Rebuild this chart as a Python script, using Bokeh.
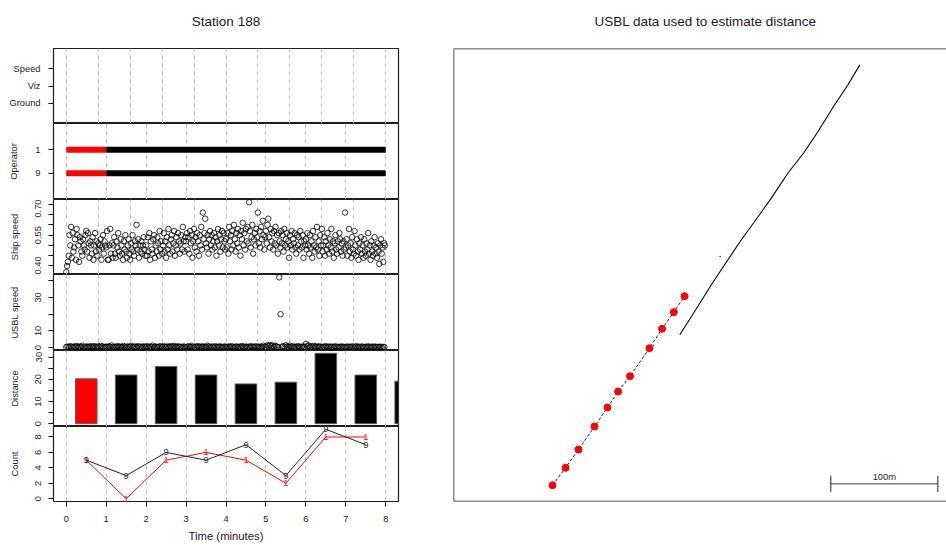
import numpy as np
from bokeh.plotting import figure
from bokeh.layouts import column, row
from bokeh.models import FixedTicker, Range1d, Span, PrintfTickFormatter, Title
from bokeh.core.properties import value
from bokeh.embed import file_html
from bokeh.resources import INLINE

FONT = "Liberation Sans"
TICK_FS = "9.3px"
INK = "#1a1a1a"

# ---------------- data ----------------
time_ticks = [0, 1, 2, 3, 4, 5, 6, 7, 8]
grid_minutes = [0, 1, 2, 3, 4, 5, 6, 7, 8]
grid_fine = [0.0, 0.8, 1.6, 2.4, 3.2, 4.0, 4.8, 5.6, 6.4, 7.2, 8.0]

status_ticks = [1, 2, 3]
status_labels = ["Ground", "Viz", "Speed"]

operator_ticks = [1, 2]
operator_labels = ["9", "1"]
operator_y = [2, 2, 1, 1]
operator_start = [0, 1, 0, 1]
operator_end = [1, 8, 1, 8]
operator_color = ["red", "black", "red", "black"]

ship_speed_ticks = [0.40, 0.55, 0.70]
ship_speed_minor = [0.45, 0.50, 0.60, 0.65]
# ship speed samples, one row per minute
ship_speed = [
    [0.37, 0.40, 0.42, 0.45, 0.55, 0.50, 0.59, 0.44, 0.56, 0.47, 0.49, 0.53, 0.43, 0.58, 0.55, 0.50, 0.42, 0.54, 0.52, 0.47,
     0.45, 0.53, 0.50, 0.48, 0.55, 0.57, 0.47, 0.56, 0.51, 0.44, 0.52, 0.50, 0.46, 0.54, 0.43, 0.50, 0.56, 0.47, 0.52, 0.45,
     0.51, 0.48, 0.50, 0.53, 0.43, 0.49, 0.55, 0.46, 0.52, 0.50],
    [0.49, 0.57, 0.43, 0.43, 0.50, 0.58, 0.46, 0.51, 0.44, 0.50, 0.54, 0.46, 0.44, 0.52, 0.49, 0.56, 0.47, 0.45, 0.53, 0.50,
     0.46, 0.43, 0.52, 0.48, 0.55, 0.47, 0.44, 0.50, 0.53, 0.46, 0.43, 0.51, 0.48, 0.55, 0.47, 0.45, 0.52, 0.50, 0.60, 0.48,
     0.53, 0.44, 0.50, 0.47, 0.52, 0.46, 0.50, 0.54, 0.48, 0.45],
    [0.50, 0.45, 0.54, 0.47, 0.56, 0.43, 0.52, 0.48, 0.46, 0.53, 0.55, 0.44, 0.50, 0.47, 0.54, 0.51, 0.45, 0.57, 0.48, 0.52,
     0.46, 0.50, 0.56, 0.47, 0.52, 0.44, 0.54, 0.48, 0.58, 0.50, 0.46, 0.53, 0.55, 0.47, 0.51, 0.57, 0.45, 0.50, 0.54, 0.48,
     0.56, 0.52, 0.46, 0.51, 0.55, 0.48, 0.59, 0.52, 0.47, 0.54],
    [0.52, 0.56, 0.48, 0.54, 0.46, 0.57, 0.51, 0.55, 0.44, 0.52, 0.58, 0.49, 0.54, 0.47, 0.56, 0.52, 0.45, 0.55, 0.50, 0.59,
     0.48, 0.66, 0.53, 0.56, 0.63, 0.51, 0.49, 0.55, 0.46, 0.53, 0.57, 0.50, 0.55, 0.48, 0.52, 0.56, 0.49, 0.54, 0.45, 0.52,
     0.58, 0.50, 0.55, 0.47, 0.53, 0.57, 0.49, 0.56, 0.52, 0.48],
    [0.53, 0.49, 0.56, 0.46, 0.59, 0.52, 0.55, 0.48, 0.57, 0.50, 0.60, 0.53, 0.47, 0.56, 0.51, 0.58, 0.49, 0.55, 0.45, 0.57,
     0.53, 0.61, 0.50, 0.56, 0.48, 0.58, 0.52, 0.59, 0.51, 0.71, 0.57, 0.49, 0.54, 0.60, 0.46, 0.53, 0.56, 0.50, 0.58, 0.54,
     0.66, 0.51, 0.57, 0.49, 0.59, 0.53, 0.62, 0.55, 0.48, 0.54],
    [0.57, 0.51, 0.60, 0.63, 0.54, 0.49, 0.58, 0.52, 0.56, 0.48, 0.57, 0.51, 0.59, 0.50, 0.55, 0.46, 0.56, 0.52, 0.49, 0.57,
     0.51, 0.55, 0.47, 0.58, 0.50, 0.53, 0.56, 0.49, 0.52, 0.44, 0.55, 0.50, 0.57, 0.48, 0.53, 0.51, 0.56, 0.49, 0.46, 0.55,
     0.50, 0.54, 0.48, 0.57, 0.52, 0.49, 0.55, 0.44, 0.52, 0.50],
    [0.53, 0.48, 0.56, 0.50, 0.46, 0.55, 0.49, 0.52, 0.44, 0.57, 0.50, 0.47, 0.54, 0.49, 0.59, 0.48, 0.52, 0.45, 0.55, 0.50,
     0.58, 0.47, 0.50, 0.54, 0.45, 0.52, 0.48, 0.56, 0.50, 0.46, 0.53, 0.49, 0.58, 0.47, 0.52, 0.44, 0.51, 0.55, 0.48, 0.46,
     0.52, 0.49, 0.56, 0.53, 0.47, 0.51, 0.45, 0.52, 0.48, 0.66],
    [0.49, 0.53, 0.45, 0.50, 0.58, 0.47, 0.51, 0.44, 0.54, 0.48, 0.46, 0.57, 0.50, 0.45, 0.53, 0.47, 0.43, 0.51, 0.48, 0.54,
     0.46, 0.50, 0.44, 0.53, 0.47, 0.45, 0.51, 0.48, 0.56, 0.46, 0.50, 0.43, 0.52, 0.47, 0.45, 0.50, 0.54, 0.46, 0.49, 0.44,
     0.51, 0.47, 0.41, 0.50, 0.53, 0.46, 0.49, 0.42, 0.51, 0.50],
]

usbl_speed_ticks = [0, 10, 30]
usbl_speed_minor = [20, 40]
# USBL speed samples, one row per minute
usbl_speed = [
    [0.4, 0.7, 0.3, 0.9, 0.5, 0.2, 0.8, 0.4, 1.0, 0.3, 0.6, 0.5, 1.2, 0.4, 0.2, 0.7, 0.5, 0.3, 0.9, 0.6,
     0.4, 1.0, 0.2, 0.5, 0.8, 0.3, 1.1, 0.6, 0.4, 0.5],
    [0.6, 0.3, 0.8, 0.5, 1.3, 0.4, 0.2, 0.7, 0.5, 0.9, 0.3, 0.6, 0.4, 1.0, 0.5, 0.2, 0.8, 0.4, 0.6, 1.1,
     0.3, 0.5, 0.7, 0.2, 0.9, 0.4, 0.6, 0.3, 0.8, 0.5],
    [0.5, 0.9, 0.3, 0.6, 0.4, 1.2, 0.2, 0.7, 0.5, 0.3, 0.8, 0.6, 0.4, 1.0, 0.3, 0.5, 0.7, 0.2, 0.9, 0.4,
     0.6, 1.1, 0.3, 0.5, 0.8, 0.4, 0.6, 0.2, 0.7, 0.5],
    [0.3, 0.6, 0.8, 0.4, 1.0, 0.5, 0.2, 0.7, 0.4, 0.9, 0.3, 0.6, 0.5, 0.8, 0.2, 0.4, 1.1, 0.6, 0.3, 0.7,
     0.5, 0.4, 0.9, 0.2, 0.6, 0.5, 0.8, 0.3, 0.4, 0.7],
    [0.5, 0.3, 0.7, 0.4, 0.9, 0.6, 0.2, 0.5, 0.8, 0.3, 0.6, 0.4, 1.0, 0.5, 0.3, 0.7, 0.2, 0.6, 0.4, 0.9,
     0.5, 0.3, 0.8, 0.6, 0.4, 0.7, 0.2, 0.5, 1.2, 0.4],
    [0.6, 1.4, 0.9, 1.6, 0.8, 1.3, 0.5, 1.1, 0.7, 0.4, 42.0, 20.0, 0.6, 0.9, 0.4, 1.5, 0.7, 0.3, 1.2, 0.5,
     0.8, 0.4, 0.6, 0.3, 0.9, 0.5, 0.2, 0.7, 0.4, 0.6],
    [2.2, 0.8, 1.3, 0.5, 0.9, 0.4, 1.1, 0.6, 0.3, 0.8, 0.5, 0.7, 0.2, 0.6, 0.4, 0.9, 0.3, 0.5, 0.7, 0.4,
     0.6, 0.2, 0.8, 0.5, 0.3, 0.6, 0.4, 0.7, 0.5, 0.3],
    [0.5, 0.7, 0.3, 0.6, 0.4, 0.8, 0.2, 0.5, 0.9, 0.4, 0.6, 0.3, 0.7, 0.5, 0.2, 0.6, 0.4, 0.8, 0.3, 0.5,
     0.6, 0.4, 0.7, 0.3, 0.5, 0.4, 0.6, 0.2, 0.5, 0.4],
]

distance_ticks = [0, 10, 20, 30]
distance_minor = [5, 15, 25]
dist_time = [0.5, 1.5, 2.5, 3.5, 4.5, 5.5, 6.5, 7.5, 8.5]
dist_value = [20.2, 21.9, 25.8, 21.9, 17.9, 18.7, 31.7, 21.9, 19.1]
dist_color = ["red", "black", "black", "black", "black", "black", "black", "black", "black"]

count_ticks = [0, 2, 4, 6, 8]
count_time = [0.5, 1.5, 2.5, 3.5, 4.5, 5.5, 6.5, 7.5]
count_op9 = [5, 3, 6, 5, 7, 3, 9, 7]
count_op1 = [5, 0, 5, 6, 5, 2, 8, 8]

# right panel, local grid in metres
track_x = [211.5, 224.9, 240.5, 252.9, 268.5, 280.9, 296.5, 312.1, 327.7, 340.2, 355.7, 368.2, 379.7]
track_y = [155.8, 176.9, 201.9, 220.6, 243.9, 261.0, 282.9, 306.3, 326.4, 345.1, 370.1, 388.8, 408.1]
fix_x = [92.5, 104.7, 116.8, 131.8, 143.9, 153.8, 165.0, 183.1, 194.9, 205.9, 215.9]
fix_y = [15.2, 31.5, 48.6, 70.1, 87.9, 102.8, 117.1, 143.3, 161.4, 177.0, 191.9]
stray_x = [249.2, 187.0]
stray_y = [229.0, 145.6]
scale_x0 = 352.6
scale_len = 100.0
scale_y = 16.5
scale_tick = 7.5
scale_label = "100m"
map_x_range = (0, 460.7)
map_y_range = (0, 423.4)

XR = (-0.32, 8.32)
LEFT_BORDER = 53
FRAME_W = 345


def style_axis(ax):
    ax.axis_line_color = None
    ax.major_tick_in = 0
    ax.major_tick_out = 5
    ax.minor_tick_in = 0
    ax.minor_tick_out = 5
    ax.major_tick_line_color = "black"
    ax.minor_tick_line_color = "black"
    ax.major_label_text_font = FONT
    ax.major_label_text_font_size = TICK_FS
    ax.major_label_text_color = INK
    ax.axis_label_text_font = FONT
    ax.axis_label_text_font_size = TICK_FS
    ax.axis_label_text_font_style = "normal"
    ax.axis_label_text_color = INK


def make_panel(frame_h, yr, grid_ticks, top=0, bottom=0, xaxis=False):
    p = figure(frame_width=FRAME_W, frame_height=frame_h,
               x_range=Range1d(*XR), y_range=Range1d(*yr),
               min_border_left=LEFT_BORDER, min_border_right=3,
               min_border_top=top, min_border_bottom=bottom,
               x_axis_location="below" if xaxis else None,
               output_backend="svg", toolbar_location=None)
    p.outline_line_color = "#1e1e1e"
    p.outline_line_width = 1.2
    p.ygrid.visible = False
    p.xgrid.ticker = FixedTicker(ticks=grid_ticks)
    p.xgrid.grid_line_color = "#bdbdbd"
    p.xgrid.grid_line_dash = "4 4"
    p.xgrid.grid_line_width = 1
    style_axis(p.yaxis[0])
    return p


def set_title(p, text, align, offset):
    # spacer nearest the frame, main title above it
    p.add_layout(Title(text=" ", text_font_size="1px", standoff=17), "above")
    p.title.text = text
    p.title.align = align
    p.title.offset = offset
    p.title.text_font = FONT
    p.title.text_font_size = "13.5px"
    p.title.text_font_style = "normal"
    p.title.text_color = INK
    p.title.standoff = 0


# panel 1: status
p1 = make_panel(75, (-0.16, 4.16), grid_fine, top=48)
p1.yaxis.ticker = FixedTicker(ticks=status_ticks)
p1.yaxis.major_label_overrides = dict(zip(status_ticks, status_labels))
p1.yaxis.major_label_standoff = 8
set_title(p1, "Station 188", "center", 0)

# panel 2: operator
p2 = make_panel(76, (-0.12, 3.12), grid_minutes)
p2.yaxis.ticker = FixedTicker(ticks=operator_ticks)
p2.yaxis.major_label_overrides = dict(zip(operator_ticks, operator_labels))
p2.yaxis.major_label_standoff = 8
p2.yaxis.axis_label = "Operator"
p2.yaxis.axis_label_standoff = 13
p2.segment(x0=operator_start, x1=operator_end, y0=operator_y, y1=operator_y,
           line_color=operator_color, line_width=6, line_cap="butt")

# panel 3: ship speed
p3 = make_panel(75, (0.3585, 0.7235), grid_fine)
p3.yaxis.ticker = FixedTicker(ticks=ship_speed_ticks, minor_ticks=ship_speed_minor)
p3.yaxis.formatter = PrintfTickFormatter(format="%.2f")
p3.yaxis.major_label_orientation = "vertical"
p3.yaxis.major_label_standoff = 7
p3.yaxis.axis_label = "Ship speed"
p3.yaxis.axis_label_standoff = 13
ss_t = [m + i / len(r) for m, r in enumerate(ship_speed) for i in range(len(r))]
ss_v = [v for r in ship_speed for v in r]
p3.scatter(ss_t, ss_v, marker="circle", size=5.5, fill_color=None, line_color="black", line_width=0.8)

# panel 4: USBL speed
p4 = make_panel(76, (-1.68, 43.68), grid_fine)
p4.yaxis.ticker = FixedTicker(ticks=usbl_speed_ticks, minor_ticks=usbl_speed_minor)
p4.yaxis.major_label_orientation = "vertical"
p4.yaxis.major_label_standoff = 7
p4.yaxis.axis_label = "USBL speed"
p4.yaxis.axis_label_standoff = 13
us_t = [m + i / len(r) for m, r in enumerate(usbl_speed) for i in range(len(r))]
us_v = [v for r in usbl_speed for v in r]
p4.scatter(us_t, us_v, marker="circle", size=5.5, fill_color=None, line_color="black", line_width=0.8)

# panel 5: distance
p5 = make_panel(76, (-1.27, 32.97), grid_minutes)
p5.yaxis.ticker = FixedTicker(ticks=distance_ticks, minor_ticks=distance_minor)
p5.yaxis.major_label_orientation = "vertical"
p5.yaxis.major_label_standoff = 7
p5.yaxis.axis_label = "Distance"
p5.yaxis.axis_label_standoff = 13
p5.vbar(x=dist_time, width=0.54, top=dist_value, bottom=0,
        fill_color=dist_color, line_color="#5a5a5a", line_width=1)

# panel 6: count
p6 = make_panel(75, (-0.36, 9.36), grid_minutes, bottom=44, xaxis=True)
p6.yaxis.ticker = FixedTicker(ticks=count_ticks)
p6.yaxis.major_label_orientation = "vertical"
p6.yaxis.major_label_standoff = 7
p6.yaxis.axis_label = "Count"
p6.yaxis.axis_label_standoff = 13
xa = p6.xaxis[0]
style_axis(xa)
xa.ticker = FixedTicker(ticks=time_ticks)
xa.major_label_standoff = 9
xa.axis_label = "Time (minutes)"
xa.axis_label_text_font_size = "11.3px"
xa.axis_label_standoff = 5
p6.line(count_time, count_op1, line_color="red", line_width=1)
p6.text(x=count_time, y=count_op1, text=[operator_labels[1]] * len(count_time),
        text_font=value(FONT), text_font_size="9.3px", text_color="red",
        text_align="center", text_baseline="middle")
p6.line(count_time, count_op9, line_color="#222222", line_width=1)
p6.text(x=count_time, y=count_op9, text=[operator_labels[0]] * len(count_time),
        text_font=value(FONT), text_font_size="9.3px", text_color="#2a2a3a",
        text_align="center", text_baseline="middle")

left = column(p1, p2, p3, p4, p5, p6, spacing=0)

# right panel: map
pr = figure(frame_width=493, frame_height=453,
            x_range=Range1d(*map_x_range), y_range=Range1d(*map_y_range),
            min_border_left=52, min_border_right=0, min_border_top=48, min_border_bottom=44,
            x_axis_location=None, y_axis_location=None,
            output_backend="svg", toolbar_location=None)
pr.grid.visible = False
pr.outline_line_color = None
set_title(pr, "USBL data used to estimate distance", "left", 141)
for loc, dim in [(map_x_range[0], "height"), (map_y_range[0], "width"), (map_y_range[1], "width")]:
    pr.add_layout(Span(location=loc, dimension=dim, line_color="#1e1e1e", line_width=1.5))

pr.line(track_x, track_y, line_color="black", line_width=1.1)
pr.line(fix_x, fix_y, line_color="blue", line_width=1, line_dash="3 2")
pr.scatter(stray_x, stray_y, marker="circle", size=1.5, fill_color="blue", line_color=None)
pr.scatter(fix_x, fix_y, marker="circle", size=7, fill_color="red", line_color="red")
pr.segment(x0=[scale_x0], x1=[scale_x0 + scale_len], y0=[scale_y], y1=[scale_y],
           line_color="#3a3a3a", line_width=1)
pr.segment(x0=[scale_x0, scale_x0 + scale_len], x1=[scale_x0, scale_x0 + scale_len],
           y0=[scale_y - scale_tick] * 2, y1=[scale_y + scale_tick] * 2,
           line_color="#1e1e1e", line_width=1)
pr.text(x=[scale_x0 + scale_len / 2], y=[scale_y], text=[scale_label], y_offset=-2,
        text_font=value(FONT), text_font_size="9.3px", text_color=INK,
        text_align="center", text_baseline="bottom")

layout = row(left, pr, spacing=0)

open("out.html", "w").write(file_html(layout, INLINE))
